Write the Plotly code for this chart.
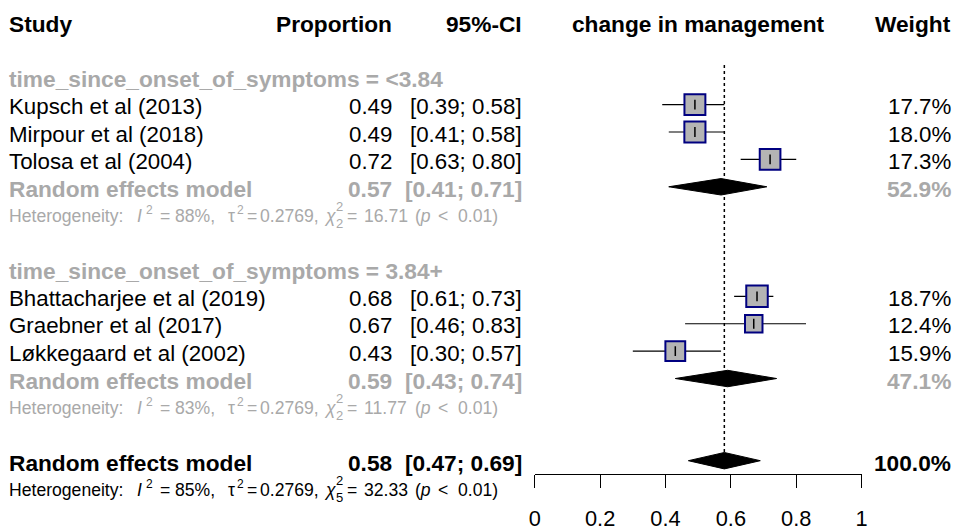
import numpy as np
import plotly.graph_objects as go

# Horizontal page mapping: page_x = PAGE_X0 + PAGE_S * figure_x
PAGE_X0, PAGE_S = 7.9, 0.9835
W, H = 963, 531
FONT = "Liberation Sans, Arial, sans-serif"
GRAY = "#A9A9A9"
TXT = 22.3    # regular text size
BOLD = 22.7   # bold text size
HET = 17.6    # heterogeneity line size

# ---- study-level data -------------------------------------------------------
study = ["Kupsch et al (2013)", "Mirpour et al (2018)", "Tolosa et al (2004)",
         "Bhattacharjee et al (2019)", "Graebner et al (2017)", "Løkkegaard et al (2002)"]
group = [0, 0, 0, 1, 1, 1]
prop = [0.49, 0.49, 0.72, 0.68, 0.67, 0.43]
ci_lo = [0.39, 0.41, 0.63, 0.61, 0.46, 0.30]
ci_hi = [0.58, 0.58, 0.80, 0.73, 0.83, 0.57]
weight = [17.7, 18.0, 17.3, 18.7, 12.4, 15.9]

# ---- subgroup pooled estimates ----------------------------------------------
group_labels = ["time_since_onset_of_symptoms = &lt;3.84",
                "time_since_onset_of_symptoms = 3.84+"]
re_prop = [0.57, 0.59]
re_lo = [0.41, 0.43]
re_hi = [0.71, 0.74]
re_weight = [52.9, 47.1]
het_i2 = [88, 83]
het_tau2 = [0.2769, 0.2769]
het_chi2 = [16.71, 11.77]
het_df = [2, 2]

# ---- overall pooled estimate ------------------------------------------------
overall_prop, overall_lo, overall_hi = 0.58, 0.47, 0.69
overall_weight = 100.0
overall_i2, overall_tau2, overall_chi2, overall_df = 85, 0.2769, 32.33, 5

tick_vals = [0, 0.2, 0.4, 0.6, 0.8, 1]
tick_text = ["0", "0.2", "0.4", "0.6", "0.8", "1"]

# ---- row layout (one row per text line, top to bottom) ----------------------
HEADER_ROW = 0
GROUP_STEP = 7
def group_row(g):
    return 2 + GROUP_STEP * g
study_rows = []
count = [0, 0]
for g in group:
    study_rows.append(group_row(g) + 1 + count[g])
    count[g] += 1
re_rows = [group_row(g) + 4 for g in range(2)]
het_rows = [group_row(g) + 5 for g in range(2)]
OVERALL_ROW = 16
OVERALL_HET_ROW = 17
AXIS_ROW = 16.5
DIAMOND_HALF = 0.3

# column positions (page pixels)
X_STUDY = 10
X_PROP = 393
X_CI = 523
X_PLOT = (534.5, 860)
X_WEIGHT = 950

def px(x):
    return (x - PAGE_X0) / PAGE_S / W

anns = []

def label(x, row, text, align="left", size=TXT, color="black", bold=False, yshift=-2):
    if bold:
        text = f"<b>{text}</b>"
        if size == TXT:
            size = BOLD
    anns.append(dict(x=px(x), y=row, xref="paper", yref="y", text=text,
                     showarrow=False, xanchor=align, yanchor="middle",
                     align=align, borderpad=0, yshift=yshift,
                     font=dict(size=size, color=color, family=FONT)))

def het(row, i2, tau2, chi2, df, color):
    # plotmath-style spacing: each token placed on its own
    pieces = [(10, "Heterogeneity:"), (137, "<i>I</i>"), (160, "="),
              (175, f"{i2}%,"), (228, "τ"), (247, "="),
              (260, f"{tau2:.4f},"), (324, "<i>χ</i>"), (347, "="),
              (363, f"{chi2:.2f}"), (414, "(<i>p</i>"), (437, "&lt;")]
    for x, t in pieces:
        label(x, row, t, size=HET, color=color)
    label(499, row, "0.01)", "right", size=HET, color=color)
    # superscript 2 on I and tau
    for x in (146, 237):
        label(x, row, "2", size=12, color=color, yshift=4)
    # stacked superscript 2 / subscript degrees of freedom on chi
    label(336, row, f"2<br>{df}", size=13, color=color, yshift=-1)

# column headers
label(X_STUDY, HEADER_ROW, "Study", bold=True)
label(X_PROP, HEADER_ROW, "Proportion", "right", bold=True)
label(X_CI, HEADER_ROW, "95%-CI", "right", bold=True)
label(sum(X_PLOT) / 2, HEADER_ROW, "change in management", "center", bold=True)
label(X_WEIGHT, HEADER_ROW, "Weight", "right", bold=True)

for i, name in enumerate(study):
    r = study_rows[i]
    label(X_STUDY, r, name)
    label(X_PROP, r, f"{prop[i]:.2f}", "right")
    label(X_CI, r, f"[{ci_lo[i]:.2f}; {ci_hi[i]:.2f}]", "right")
    label(X_WEIGHT, r, f"{weight[i]:.1f}%", "right")

for g in range(2):
    label(X_STUDY, group_row(g), group_labels[g], color=GRAY, bold=True)
    label(X_STUDY, re_rows[g], "Random effects model", color=GRAY, bold=True)
    label(X_PROP, re_rows[g], f"{re_prop[g]:.2f}", "right", color=GRAY, bold=True)
    label(X_CI, re_rows[g], f"[{re_lo[g]:.2f}; {re_hi[g]:.2f}]", "right", color=GRAY, bold=True)
    label(X_WEIGHT, re_rows[g], f"{re_weight[g]:.1f}%", "right", color=GRAY, bold=True)
    het(het_rows[g], het_i2[g], het_tau2[g], het_chi2[g], het_df[g], GRAY)

label(X_STUDY, OVERALL_ROW, "Random effects model", bold=True)
label(X_PROP, OVERALL_ROW, f"{overall_prop:.2f}", "right", bold=True)
label(X_CI, OVERALL_ROW, f"[{overall_lo:.2f}; {overall_hi:.2f}]", "right", bold=True)
label(X_WEIGHT, OVERALL_ROW, f"{overall_weight:.1f}%", "right", bold=True)
het(OVERALL_HET_ROW, overall_i2, overall_tau2, overall_chi2, overall_df, "black")

fig = go.Figure()

# confidence interval whiskers
ci_x, ci_y = [], []
for i in range(len(study)):
    ci_x += [ci_lo[i], ci_hi[i], None]
    ci_y += [study_rows[i], study_rows[i], None]
fig.add_trace(go.Scatter(x=ci_x, y=ci_y, mode="lines",
                         line=dict(color="black", width=1.2), hoverinfo="skip"))

# weight-scaled boxes
wmax = max(weight)
box_size = [21.5 * np.sqrt(w / wmax) for w in weight]
fig.add_trace(go.Scatter(x=prop, y=study_rows, mode="markers",
                         marker=dict(symbol="square", size=box_size, color="#B4B4B4",
                                     opacity=1, line=dict(color="#000080", width=2))))
# point estimate tick inside each box
fig.add_trace(go.Scatter(x=prop, y=study_rows, mode="markers",
                         marker=dict(symbol="line-ns-open", size=7, color="black",
                                     line=dict(color="black", width=1.5))))

# pooled-estimate diamonds
def diamond(est, lo, hi, row):
    fig.add_trace(go.Scatter(x=[lo, est, hi, est, lo],
                             y=[row, row - DIAMOND_HALF, row, row + DIAMOND_HALF, row],
                             mode="lines", fill="toself", fillcolor="black",
                             line=dict(color="black", width=1)))

for g in range(2):
    diamond(re_prop[g], re_lo[g], re_hi[g], re_rows[g])
diamond(overall_prop, overall_lo, overall_hi, OVERALL_ROW)

# dotted reference line at the overall estimate
shapes = [dict(type="line", xref="x", yref="y", x0=overall_prop, x1=overall_prop,
               y0=group_row(0) - 0.45, y1=OVERALL_ROW - DIAMOND_HALF,
               line=dict(color="black", width=1.5, dash="dot"))]

# row axis: row k centred at 22.6 + 27.6*k pixels from the top
ROW0, ROWH = 22.6, 27.6
y_top = -ROW0 / ROWH
y_bottom = (H - ROW0) / ROWH

fig.update_layout(
    width=W, height=H, margin=dict(l=0, r=0, t=0, b=0),
    paper_bgcolor="white", plot_bgcolor="white", showlegend=False,
    annotations=anns, shapes=shapes,
    xaxis=dict(domain=[px(X_PLOT[0]), px(X_PLOT[1])], range=[0, 1], anchor="free",
               position=1 - (ROW0 + ROWH * AXIS_ROW) / H,
               showline=True, linecolor="black", linewidth=1.2,
               ticks="outside", ticklen=13, tickwidth=1.2, tickcolor="black",
               tickvals=tick_vals, ticktext=tick_text, ticklabelstandoff=11,
               tickfont=dict(size=21.8, color="black", family=FONT),
               showgrid=False, zeroline=False, fixedrange=True),
    yaxis=dict(domain=[0, 1], range=[y_bottom, y_top], visible=False,
               showgrid=False, zeroline=False, fixedrange=True),
)

fig.write_html("out.html")
